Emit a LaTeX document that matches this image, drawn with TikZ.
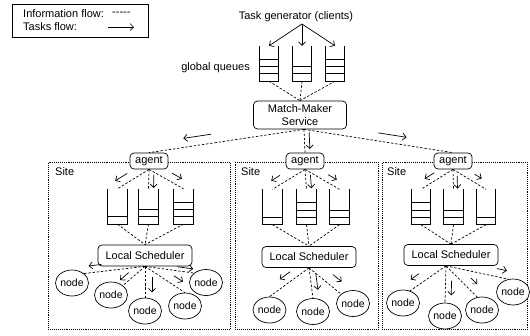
\documentclass[tikz,border=0pt]{standalone}
\usepackage{fontspec}
\setmainfont{Liberation Sans}
\usetikzlibrary{arrows.meta,calc,shapes.geometric}
\newcommand{\tflow}[5]{\draw[taskarrow] ($($(#1)!#3!(#2)$)!#5pt!90:(#2)$) -- ($($(#1)!#4!(#2)$)!#5pt!90:(#2)$);}
\newcommand{\queueshape}[2]{%
  \draw[qline] (#1.north west) -- (#1.south west) -- (#1.south east) -- (#1.north east);
  \foreach \k in {1,...,#2}{\draw[qline] ($(#1.south west)+(0,-7.4*\k)$) -- ($(#1.south east)+(0,-7.4*\k)$);}
}
\tikzset{
  info/.style={dash pattern=on 2.4pt off 1.8pt, line width=0.7pt},
  taskarrow/.style={-{Straight Barb[length=3.5pt,width=7pt]}, line width=0.7pt},
  rbox/.style={draw, rounded corners=4pt, fill=white, line width=0.7pt, inner sep=0pt, font=\fontsize{11}{12.5}\selectfont},
  agentbox/.style={rbox, minimum width=38pt, minimum height=16pt},
  lsbox/.style={rbox, minimum width=94pt, minimum height=21pt},
  mmbox/.style={rbox, minimum width=93pt, minimum height=28pt, align=center},
  wnode/.style={ellipse, draw, fill=white, minimum width=31pt, minimum height=26pt, inner sep=0pt, line width=0.7pt, font=\fontsize{10.5}{12}\selectfont},
  qbox/.style={minimum width=19pt, minimum height=35pt, inner sep=0pt},
  qline/.style={line width=0.8pt},
  sitebox/.style={draw, dash pattern=on 0.8pt off 1.1pt, line width=0.8pt, inner sep=0pt, anchor=north west, minimum height=167pt},
  lbl/.style={font=\fontsize{11}{13}\selectfont, inner sep=0pt},
}
\begin{document}
\begin{tikzpicture}[x=1pt,y=-1pt]
\useasboundingbox (0,0) rectangle (530,335);
% legend
\node[draw, line width=0.7pt, minimum width=136pt, minimum height=33pt, inner sep=0pt, anchor=north west] (legend) at (12,4) {};
\node[lbl, anchor=west] (linfo) at (23,14) {Information flow:};
\node[lbl, anchor=west] (ldash) at (112,14) {-{}-{}-{}-{}-};
\node[lbl, anchor=west] (ltask) at (23,27) {Tasks flow:};
\coordinate (lgA) at (108,27);
\coordinate (lgB) at (134,27);
\draw[taskarrow] (lgA) -- (lgB);

% sites
\node[sitebox, minimum width=182pt] (s1) at (48,162) {};
\node[sitebox, minimum width=143pt] (s2) at (235,162) {};
\node[sitebox, minimum width=145pt] (s3) at (382,162) {};
\node[lbl, anchor=west] (s1l) at ($(s1.north west)+(7,10)$) {Site};
\node[lbl, anchor=west] (s2l) at ($(s2.north west)+(6,10)$) {Site};
\node[lbl, anchor=west] (s3l) at ($(s3.north west)+(5,10)$) {Site};

% top
\node[lbl] (tg) at (296,17) {Task generator (clients)};
\coordinate (tgo) at (302,24);
\node[lbl, anchor=east] (gq) at (250,68) {global queues};
\node[qbox] (g1) at (269,63.5) {};
\node[qbox] (g2) at (302,63.5) {};
\node[qbox] (g3) at (335,63.5) {};
\queueshape{g1}{3}
\queueshape{g2}{2}
\queueshape{g3}{3}
\node[mmbox] (mm) at (300,115) {Match-Maker\\Service};
\coordinate (mmo) at ($(mm.south)+(4,0)$);

% agents
\node[agentbox] (a1) at (149,161) {agent};
\node[agentbox] (a2) at (305,161) {agent};
\node[agentbox] (a3) at (453,161) {agent};

% local queues
\node[qbox] (q11) at (117.5,206.5) {};
\node[qbox] (q12) at (148.5,206.5) {};
\node[qbox] (q13) at (183.5,206.5) {};
\node[qbox] (q21) at (272.5,207) {};
\node[qbox] (q22) at (306.5,207) {};
\node[qbox] (q23) at (339.5,207) {};
\node[qbox] (q31) at (421,207) {};
\node[qbox] (q32) at (453.5,207) {};
\node[qbox] (q33) at (486,207) {};
\queueshape{q11}{1}
\queueshape{q12}{2}
\queueshape{q13}{3}
\queueshape{q21}{1}
\queueshape{q22}{3}
\queueshape{q23}{2}
\queueshape{q31}{3}
\queueshape{q32}{2}
\queueshape{q33}{1}

% local schedulers
\node[lsbox] (ls1) at (145,255.5) {Local Scheduler};
\node[lsbox] (ls2) at (309,257) {Local Scheduler};
\node[lsbox] (ls3) at (451,255) {Local Scheduler};
\coordinate (h1) at (ls1.south);
\coordinate (h2) at (ls2.south);
\coordinate (h3) at ($(ls3.south)+(-5,0)$);

% worker nodes
\node[wnode] (na) at (72,283) {node};
\node[wnode] (nb) at (111,295) {node};
\node[wnode] (nc) at (145,311) {node};
\node[wnode] (nd) at (185,306) {node};
\node[wnode] (ne) at (206,282.5) {node};
\node[wnode] (n21) at (269.5,310) {node};
\node[wnode] (n22) at (313,311.5) {node};
\node[wnode] (n23) at (353,303.5) {node};
\node[wnode] (n31) at (403,303) {node};
\node[wnode] (n32) at (445,316) {node};
\node[wnode] (n33) at (482,310) {node};
\node[wnode] (n34) at (513,292) {node};

% task generator arrows
\draw[taskarrow] (tgo) -- (g1.north);
\draw[taskarrow] (tgo) -- (g2.north);
\draw[taskarrow] (tgo) -- (g3.north);

% information flow
\foreach \g in {g1,g2,g3} \draw[info] (\g.south) -- (mm.north);
\foreach \a in {a1,a2,a3} \draw[info] (mmo) -- (\a.north);
\foreach \q in {q11,q12,q13} {\draw[info] (a1.south) -- (\q.north); \draw[info] (\q.south) -- (ls1.north);}
\foreach \q in {q21,q22,q23} {\draw[info] (a2.south) -- (\q.north); \draw[info] (\q.south) -- (ls2.north);}
\foreach \q in {q31,q32,q33} {\draw[info] (a3.south) -- (\q.north); \draw[info] (\q.south) -- (ls3.north);}
\draw[info] (h1) -- (na.north east);
\draw[info] (h1) -- (nb.north east);
\draw[info] (h1) -- (nc.north);
\draw[info] (h1) -- (nd.north);
\draw[info] (h1) -- (ne.north west);
\draw[info] (h2) -- (n21.north);
\draw[info] (h2) -- (n22.north);
\draw[info] (h2) -- (n23.north west);
\draw[info] (h3) -- (n31.60);
\draw[info] (h3) -- (n32.north);
\draw[info] (h3) -- (n33.110);
\draw[info] (h3) -- (n34.110);

% task flow arrows
\tflow{mmo}{a1.north}{0.59}{0.77}{-9}
\tflow{mmo}{a2.north}{0.12}{0.85}{5}
\tflow{mmo}{a3.north}{0.49}{0.68}{8}
\tflow{a1.south}{q11.north}{0.56}{0.94}{-8}
\tflow{a1.south}{q12.north}{0.25}{0.95}{5}
\tflow{a1.south}{q13.north}{0.55}{0.84}{8}
\tflow{a2.south}{q21.north}{0.64}{0.91}{-8}
\tflow{a2.south}{q22.north}{0.3}{0.97}{5}
\tflow{a2.south}{q23.north}{0.57}{0.82}{7}
\tflow{a3.south}{q31.north}{0.47}{0.77}{-7}
\tflow{a3.south}{q32.north}{0.33}{0.97}{4}
\tflow{a3.south}{q33.north}{0.54}{0.76}{7}
\tflow{h1}{na.north east}{0.70}{0.91}{-7}
\tflow{h1}{nb.north east}{0.56}{0.95}{-6}
\tflow{h1}{nc.north}{0.34}{0.83}{7}
\tflow{h1}{nd.north}{0.61}{0.84}{8}
\tflow{h1}{ne.north west}{0.65}{0.97}{4}
\tflow{h2}{n21.north}{0.36}{0.62}{-8}
\tflow{h2}{n22.north}{0.2}{0.75}{6}
\tflow{h2}{n23.north west}{0.55}{0.82}{10}
\tflow{h3}{n31.60}{0.61}{0.84}{-9}
\tflow{h3}{n32.north}{0.4}{0.8}{6}
\tflow{h3}{n33.110}{0.59}{0.79}{9}
\tflow{h3}{n34.110}{0.79}{0.95}{8}
\end{tikzpicture}
\end{document}
